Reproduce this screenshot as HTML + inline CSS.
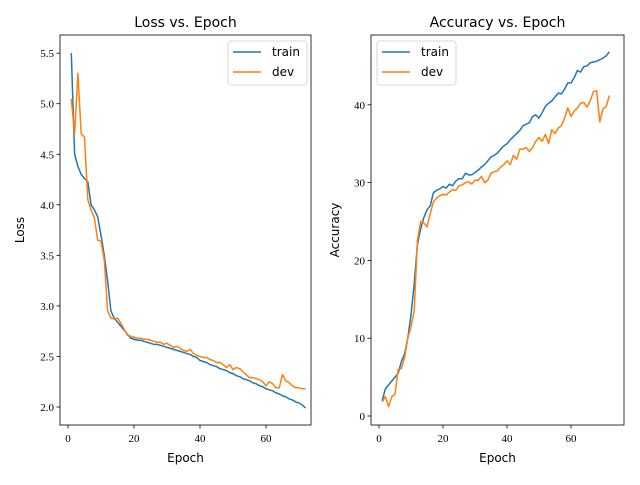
<!DOCTYPE html>
<html><head><meta charset="utf-8"><style>
body{margin:0;background:#fff;}
svg text{font-family:"Liberation Serif",serif;fill:#000;}
svg text.sans{font-family:"DejaVu Sans","Liberation Sans",sans-serif;}
</style></head><body>
<svg id="c" width="640" height="480" xmlns="http://www.w3.org/2000/svg"></svg>
<script>
const epochs = Array.from({length:72},(_,i)=>i+1);
const lossTrain = [5.5,4.5,4.38,4.3,4.26,4.23,4.0,3.95,3.88,3.7,3.5,3.25,2.95,2.88,2.84,2.8,2.76,2.72,2.68,2.67,2.66,2.66,2.65,2.64,2.63,2.62,2.62,2.61,2.60,2.59,2.58,2.57,2.56,2.55,2.54,2.53,2.52,2.50,2.49,2.46,2.45,2.44,2.42,2.41,2.40,2.38,2.37,2.36,2.34,2.33,2.31,2.30,2.28,2.27,2.26,2.24,2.23,2.21,2.20,2.18,2.17,2.16,2.14,2.13,2.11,2.10,2.08,2.07,2.05,2.04,2.02,1.99];
const lossDev = [5.05,4.7,5.3,4.7,4.67,4.05,3.95,3.87,3.65,3.64,3.45,2.95,2.88,2.87,2.88,2.83,2.77,2.71,2.70,2.69,2.68,2.68,2.67,2.67,2.66,2.65,2.64,2.64,2.62,2.63,2.61,2.59,2.60,2.58,2.56,2.55,2.57,2.53,2.51,2.50,2.49,2.49,2.47,2.46,2.44,2.44,2.42,2.39,2.42,2.37,2.39,2.38,2.35,2.32,2.29,2.29,2.28,2.27,2.25,2.21,2.25,2.23,2.19,2.19,2.32,2.26,2.24,2.21,2.19,2.19,2.18,2.18];
const accTrain = [2,3.5,4,4.5,5,5.5,7,8,10,13,17,22,24,25.5,26.5,27,28.7,29,29.2,29.5,29.3,29.8,29.6,30.2,30.5,30.5,31.2,31,31,31.3,31.6,32,32.3,32.8,33.3,33.5,33.8,34.3,34.7,35,35.5,35.9,36.3,36.7,37.3,37.5,37.7,38.5,38.7,38.3,39,39.8,40.2,40.5,41,41.5,41.4,42,42.8,42.8,43.5,44.4,44.2,44.9,45,45.4,45.5,45.6,45.8,46,46.3,46.8];
const accDev = [1.8,2.5,1.2,2.5,2.8,6,6.1,7.5,10,11.5,13.5,22.5,25,24.8,24.3,26,27.5,28,28.3,28.5,28.4,28.8,29.1,29,29.6,29.7,30,30.1,29.8,30.3,30.3,30.8,30,30.3,31.2,31.4,31.5,32,32.3,32.8,32.3,33.5,33,34.3,34.3,34.5,34,34.5,35.3,35.8,35.3,36.2,35,36.8,36.3,37,37.3,38.3,39.6,38.5,39.2,39.6,40.2,40.3,39.7,40.5,41.7,41.8,37.8,39.5,39.8,41.2];
const xTicks = [0,20,40,60];
const lossTicks = [2.0,2.5,3.0,3.5,4.0,4.5,5.0,5.5];
const accTicks = [0,10,20,30,40];

const svg=document.getElementById('c');
const NS='http://www.w3.org/2000/svg';
function mk(tag,attrs,parent){const e=document.createElementNS(NS,tag);for(const k in attrs)e.setAttribute(k,attrs[k]);(parent||svg).appendChild(e);return e;}

function panel(cfg){
  const g=mk('g',{});
  
  
  const xs=v=>cfg.x0+(v-0)*cfg.xk;
  const ys=v=>cfg.y0-(v-cfg.yref)*cfg.yk;
  const box=mk('rect',{x:cfg.L,y:35,width:cfg.R-cfg.L,height:390,fill:'none',stroke:'#000','stroke-width':0.8},g);
  
  
  xTicks.forEach(t=>{
    const x=xs(t);
    mk('line',{x1:x,x2:x,y1:425,y2:428.5,stroke:'#000','stroke-width':0.8},g);
    const tx=mk('text',{x:x,y:442,'font-size':11,'text-anchor':'middle'},g);
    tx.textContent=t;
    
    
  });
  cfg.yTicks.forEach(t=>{
    const y=ys(t);
    mk('line',{x1:cfg.L-3.5,x2:cfg.L,y1:y,y2:y,stroke:'#000','stroke-width':0.8},g);
    const tx=mk('text',{x:cfg.L-6,y:y+4,'font-size':11,'text-anchor':'end'},g);
    tx.textContent=cfg.fmt(t);
    
    
  });
  [[cfg.train,'#1f77b4','train-line'],[cfg.dev,'#ff7f0e','dev-line']].forEach(([arr,col,nm])=>{
    const p=mk('polyline',{points:arr.map((v,i)=>xs(epochs[i])+','+ys(v)).join(' '),fill:'none',stroke:col,'stroke-width':1.5,'stroke-linejoin':'round'},g);
    
    
  });
  const t=mk('text',{x:(cfg.L+cfg.R)/2,y:27,'font-size':14,'text-anchor':'middle',class:'sans'},g);
  t.textContent=cfg.title;
  
  
  const xl=mk('text',{x:(cfg.L+cfg.R)/2,y:462,'font-size':12,'text-anchor':'middle',class:'sans'},g);
  xl.textContent='Epoch';
  
  
  const yl=mk('text',{x:0,y:0,'font-size':12,'text-anchor':'middle',class:'sans',transform:`translate(${cfg.ylx},230) rotate(-90)`},g);
  yl.textContent=cfg.ylabel;
  
  
  const lg=mk('g',{},g);
  
  
  mk('rect',{x:cfg.lgx,y:41,width:79,height:44,rx:3,fill:'#fff',stroke:'#ccc','stroke-width':0.8},lg);
  [['train','#1f77b4',52],['dev','#ff7f0e',72]].forEach(([lab,col,y])=>{
    mk('line',{x1:cfg.lgx+5,x2:cfg.lgx+33,y1:y,y2:y,stroke:col,'stroke-width':1.5},lg);
    const tx=mk('text',{x:cfg.lgx+44,y:y+4,'font-size':12,class:'sans'},lg);
    tx.textContent=lab;
    
    
  });
}
panel({name:'loss-chart',L:60,R:311,x0:68,xk:3.3,y0:407,yref:2.0,yk:101.1,yTicks:lossTicks,fmt:v=>v.toFixed(1),train:lossTrain,dev:lossDev,title:'Loss vs. Epoch',ylabel:'Loss',ylx:24,lgx:228});
panel({name:'accuracy-chart',L:371,R:624,x0:379,xk:3.2,y0:416,yref:0,yk:7.78,yTicks:accTicks,fmt:v=>String(v),train:accTrain,dev:accDev,title:'Accuracy vs. Epoch',ylabel:'Accuracy',ylx:339,lgx:377});
</script>
</body></html>
